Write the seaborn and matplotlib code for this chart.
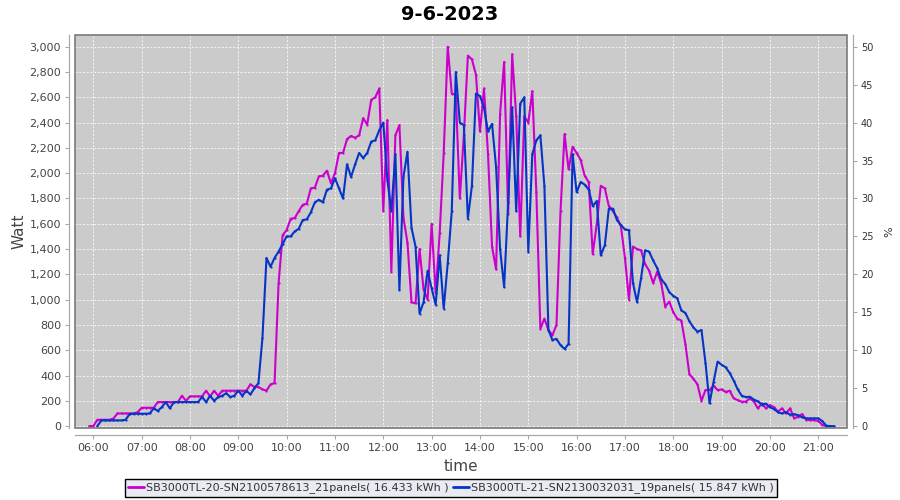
import numpy as np
import pandas as pd
import matplotlib
matplotlib.use("Agg")
import matplotlib.pyplot as plt
import matplotlib.dates as mdates
from matplotlib.ticker import FuncFormatter, MultipleLocator
from matplotlib.patches import Rectangle
from matplotlib.lines import Line2D
import seaborn as sns

# ==== data (5 minute samples) ====
title = "9-6-2023"
label_a = "SB3000TL-20-SN2100578613_21panels( 16.433 kWh )"
label_b = "SB3000TL-21-SN2130032031_19panels( 15.847 kWh )"

start_a = "2023-06-09 05:55"
watt_a = [
    0,
    0, 50, 50, 50, 50, 60, 100, 100, 100, 100, 100, 110,
    145, 145, 145, 145, 190, 190, 190, 190, 190, 190, 240, 200,
    235, 235, 235, 235, 280, 235, 280, 240, 280, 280, 280, 280,
    280, 280, 280, 330, 310, 310, 290, 280, 330, 340, 1130, 1510,
    1550, 1640, 1645, 1700, 1750, 1760, 1880, 1885, 1975, 1980, 2020, 1920,
    2000, 2160, 2160, 2270, 2295, 2280, 2300, 2435, 2385, 2580, 2600, 2670,
    1700, 2420, 1220, 2300, 2380, 1650, 1450, 980, 970, 1400, 1080, 1000,
    1600, 1050, 1525, 2160, 3000, 2630, 2620, 1800, 2300, 2930, 2900, 2780,
    2330, 2670, 2150, 1420, 1240, 2470, 2880, 1680, 2940, 2450, 1500, 2450,
    2400, 2650, 1850, 770, 850, 760, 720, 800, 1700, 2310, 2030, 2210,
    2160, 2105, 1980, 1930, 1360, 1600, 1900, 1880, 1740, 1700, 1650, 1580,
    1330, 1000, 1420, 1400, 1390, 1280, 1230, 1130, 1220, 1130, 945, 985,
    900, 850, 835, 650, 410, 375, 330, 200, 285, 285, 320, 285,
    290, 270, 280, 220, 205, 193, 193, 219, 195, 140, 179, 140,
    165, 150, 115, 140, 100, 140, 61, 75, 95, 50, 47, 47,
    40, 10, 0, 0,
]

start_b = "2023-06-09 06:05"
watt_b = [
    0, 45, 45, 45, 45, 45, 45, 50, 95, 98, 98,
    98, 98, 100, 140, 120, 150, 190, 140, 190, 190, 190, 190,
    190, 190, 190, 230, 190, 240, 200, 230, 240, 260, 230, 240,
    280, 240, 280, 250, 300, 340, 700, 1330, 1260, 1330, 1380, 1440,
    1500, 1500, 1540, 1560, 1630, 1635, 1690, 1770, 1790, 1770, 1870, 1880,
    1960, 1880, 1800, 2070, 1970, 2070, 2160, 2120, 2160, 2250, 2260, 2340,
    2400, 1950, 1700, 2150, 1076, 1970, 2170, 1570, 1420, 890, 980, 1230,
    1090, 960, 1350, 930, 1290, 1700, 2800, 2400, 2380, 1640, 1900, 2630,
    2610, 2520, 2330, 2390, 2050, 1400, 1100, 1770, 2520, 1700, 2550, 2600,
    1380, 2150, 2260, 2300, 1900, 760, 680, 690, 640, 610, 650, 2150,
    1850, 1930, 1910, 1870, 1740, 1780, 1350, 1430, 1720, 1720, 1630, 1590,
    1555, 1550, 1130, 980, 1170, 1390, 1380, 1310, 1250, 1160, 1125, 1060,
    1030, 1010, 915, 895, 830, 780, 747, 760, 500, 180, 350, 510,
    485, 465, 420, 360, 290, 240, 230, 232, 210, 195, 170, 178,
    150, 135, 110, 100, 110, 90, 95, 85, 70, 61, 61, 61,
    61, 40, 3, 0, 0,
]

color_a = "#cc00cc"
color_b = "#0634c8"

df_a = pd.DataFrame({"time": pd.date_range(start_a, periods=len(watt_a), freq="5min"),
                     "watt": watt_a, "series": label_a})
df_b = pd.DataFrame({"time": pd.date_range(start_b, periods=len(watt_b), freq="5min"),
                     "watt": watt_b, "series": label_b})
df = pd.concat([df_a, df_b], ignore_index=True)

# ==== style ====
sns.set_theme(style="darkgrid")
plt.rcParams["font.family"] = ["DejaVu Sans"]
txt = "#444444"
axis_col = "#a8a8a8"

fig = plt.figure(figsize=(9, 5), dpi=100)
fig.patch.set_facecolor("white")
ax = fig.add_axes([75 / 900, 1 - 428 / 500, (847 - 75) / 900, (428 - 35) / 500])
ax.set_facecolor("#cbcbcb")

sns.lineplot(data=df, x="time", y="watt", hue="series", hue_order=[label_a, label_b],
             palette=[color_a, color_b], linewidth=1.5, marker="o", markersize=1.6,
             markeredgewidth=0, legend=False, ax=ax)

ax.set_xlim(pd.Timestamp("2023-06-09 05:37:16"), pd.Timestamp("2023-06-09 21:35:40"))
ax.set_ylim(-15, 3093)
ax.xaxis.set_major_locator(mdates.HourLocator())
ax.xaxis.set_major_formatter(mdates.DateFormatter("%H:%M"))
ax.yaxis.set_major_locator(MultipleLocator(200))
ax.yaxis.set_major_formatter(FuncFormatter(lambda v, p: f"{v:,.0f}"))

ax.grid(True, color="white", linestyle=(0, (2.5, 2)), linewidth=0.6, alpha=0.9)
for s in ax.spines.values():
    s.set_visible(False)
for side in ["left", "bottom"]:
    ax.spines[side].set_visible(True)
    ax.spines[side].set_color(axis_col)
    ax.spines[side].set_linewidth(0.9)
ax.spines["left"].set_position(("outward", 4))
ax.spines["bottom"].set_position(("outward", 5))
ax.add_patch(Rectangle((0, 0), 1, 1, transform=ax.transAxes, fill=False,
                       edgecolor="#7a7a7a", linewidth=1.2, zorder=5, clip_on=False))

ax.tick_params(axis="both", which="major", labelsize=8, colors=txt, length=3,
               width=0.8, direction="out", pad=3, left=True, bottom=True)
ax.tick_params(axis="x", colors=axis_col, labelcolor=txt)
ax.tick_params(axis="y", colors=axis_col, labelcolor=txt)

ax.set_xlabel("time", fontsize=11, color=txt, labelpad=4)
ax.set_ylabel("Watt", fontsize=11, color=txt, labelpad=2)

# right axis (%)
ax2 = ax.twinx()
ax2.set_ylim(-15 / 60, 3093 / 60)
ax2.yaxis.set_major_locator(MultipleLocator(5))
ax2.grid(False)
for s in ax2.spines.values():
    s.set_visible(False)
ax2.spines["right"].set_visible(True)
ax2.spines["right"].set_position(("outward", 4))
ax2.spines["right"].set_color(axis_col)
ax2.spines["right"].set_linewidth(0.9)
ax2.tick_params(axis="y", labelsize=7, colors=axis_col, labelcolor="#333333", length=3,
                width=0.8, direction="out", pad=3, right=True)
ax2.set_ylabel("%", fontsize=8, color="#333333", labelpad=8)

fig.text(0.5, 1 - 14 / 500, title, ha="center", va="center", fontsize=14,
         fontweight="bold", color="black")

handles = [Line2D([], [], color=color_a, lw=2), Line2D([], [], color=color_b, lw=2)]
leg = fig.legend(handles, [label_a, label_b], loc="center",
                 bbox_to_anchor=(451 / 900, 1 - 488 / 500), ncol=2, fontsize=8,
                 frameon=True, fancybox=False, edgecolor="black", framealpha=1,
                 handlelength=1.4, handletextpad=0.2, columnspacing=0.4,
                 borderpad=0.3, labelcolor="#333333")
leg.get_frame().set_linewidth(1.0)

fig.savefig("out.png", dpi=100)
